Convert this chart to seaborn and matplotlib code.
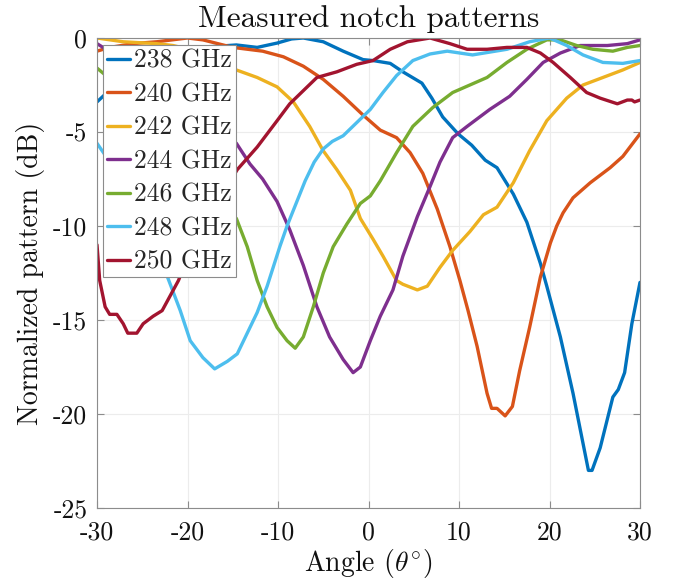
import numpy as np
import pandas as pd
import matplotlib
matplotlib.use("Agg")
import matplotlib.pyplot as plt
import seaborn as sns

# ---------------- data ----------------
freq_labels = ["238 GHz", "240 GHz", "242 GHz", "244 GHz", "246 GHz", "248 GHz", "250 GHz"]
colors = ["#0072BD", "#D95319", "#EDB120", "#7E2F8E", "#77AC30", "#4DBEEE", "#A2142F"]

x238 = [-30, -28, -26, -24, -22, -20, -17, -14.6, -12.3, -10.1, -8.5, -7.2, -5, -2.8, -0.6, 0.5, 2.4, 3.8,
        5.9, 7, 8.2, 9.9, 11.4, 12.9, 14.2, 16, 17.5, 19, 19.7, 21.2, 22.6, 24.3, 24.7, 25.6, 27.0, 27.6,
        28.3, 29.1, 30]
y238 = [-3.4, -2.5, -1.6, -1.0, -0.7, -0.5, -0.45, -0.37, -0.5, -0.27, -0.05, 0, -0.2, -0.7, -1.15, -1.2,
        -1.35, -1.8, -2.4, -3.2, -4.2, -5.1, -5.7, -6.5, -6.9, -8.3, -9.8, -12.0, -13.2, -15.9, -18.9, -23.0,
        -23.0, -21.8, -19.1, -18.7, -17.8, -15.2, -13.0]

x240 = [-30, -28.6, -26, -23.4, -20, -18.3, -15, -11.7, -9.4, -7.2, -5, -2.8, -0.6, 1.3, 3.1, 4.6, 6.0,
        7.6, 9.0, 10.1, 11.0, 12.0, 13.1, 13.6, 14.2, 15.1, 15.9, 16.7, 17.8, 19, 20.1, 20.8, 21.5, 22.6,
        24.5, 26.7, 28.1, 30]
y240 = [-0.7, -0.5, -0.3, -0.2, 0, -0.1, -0.5, -0.7, -1.0, -1.5, -2.2, -3.1, -4.1, -4.9, -5.3, -6.1, -7.2,
        -9.1, -11.1, -12.9, -14.5, -16.4, -18.9, -19.7, -19.7, -20.1, -19.6, -17.7, -15.4, -12.7, -10.9,
        -10.0, -9.3, -8.5, -7.7, -6.9, -6.3, -5.1]

x242 = [-30, -27.1, -23.4, -21.6, -18, -16, -14.6, -12.3, -10.1, -8.3, -6.5, -5, -3.5, -2, -0.9, 0.5, 1.6,
        3.1, 3.8, 5.4, 6.5, 7.9, 9.3, 11.2, 12.7, 14.2, 16, 17.8, 19.7, 21.9, 23.7, 25.9, 28.1, 30]
y242 = [0, -0.2, -0.3, -0.4, -0.8, -1.2, -1.7, -2.1, -2.6, -3.4, -4.7, -6.0, -7.0, -8.1, -9.6, -10.7, -11.6,
        -12.9, -13.1, -13.4, -13.2, -12.2, -11.3, -10.3, -9.4, -9.0, -7.7, -6.0, -4.4, -3.2, -2.5, -2.1,
        -1.7, -1.3]

x244 = [-30, -28, -26, -24, -22, -20, -18, -16, -14.6, -13.1, -11.7, -10.1, -8.7, -7.2, -5.7, -4.3, -2.8,
        -1.7, -0.9, 0.2, 1.3, 2.7, 3.8, 5.4, 6.8, 7.9, 9.3, 10.9, 13.4, 15.6, 17.5, 19.3, 21.2, 23.4,
        26.4, 28.6, 30]
y244 = [-0.3, -0.9, -1.5, -2.1, -2.8, -3.5, -4.3, -5.0, -5.6, -6.7, -7.5, -8.7, -10.2, -12.1, -14.3,
        -15.9, -17.1, -17.8, -17.5, -16.1, -14.8, -13.4, -11.6, -9.5, -7.9, -6.6, -5.3, -4.7, -3.8, -3.1,
        -2.2, -1.3, -0.8, -0.4, -0.4, -0.3, -0.1]

x246 = [-30, -28, -26, -24, -22, -20, -18, -16, -14.6, -13.4, -12.3, -11.2, -10.1, -9, -8.1, -7.2, -6.1,
        -5, -3.9, -2.4, -0.9, 0.2, 1.3, 3.1, 4.9, 7.1, 9.3, 11.2, 13.1, 15.3, 17.5, 19.7, 21.2, 23, 24.8,
        27, 28.6, 30]
y246 = [-1.6, -2.4, -3.4, -4.6, -5.9, -7.2, -8.2, -9.0, -9.6, -11.1, -12.9, -14.3, -15.4, -16.1, -16.5,
        -15.9, -14.3, -12.5, -11.1, -9.9, -8.8, -8.4, -7.6, -6.1, -4.7, -3.7, -2.9, -2.5, -2.1, -1.3, -0.6,
        -0.1, -0.1, -0.4, -0.6, -0.7, -0.5, -0.4]

x248 = [-30, -29, -28, -27, -26, -25, -24, -23, -22.3, -20.8, -19.7, -18.3, -17, -15.6, -14.5, -13.4,
        -12.3, -11.2, -9.8, -9, -8, -7, -6, -5, -4, -2.8, -1.3, 0.2, 1.6, 3.1, 4.9, 6.8, 8.7, 11.5, 15.3,
        17.8, 20, 21.9, 23.7, 25.9, 28.1, 30]
y248 = [-5.6, -6.3, -7.1, -8.0, -9.0, -10.0, -11.0, -11.9, -12.6, -14.5, -16.1, -17.0, -17.6, -17.2,
        -16.8, -15.7, -14.6, -13.2, -11.1, -10.0, -8.8, -7.6, -6.6, -5.9, -5.5, -5.2, -4.5, -3.8, -2.9,
        -2.0, -1.2, -0.85, -0.7, -0.9, -0.6, -0.2, 0, -0.4, -0.9, -1.3, -1.35, -1.2]

x250 = [-30, -29.7, -29.1, -28.6, -27.8, -27.1, -26.6, -25.6, -24.9, -23.8, -22.8, -21.9, -21, -20.5, -19,
        -18, -17, -16, -15, -14.5, -12.3, -10.1, -8.7, -7.2, -5.7, -3.5, -1.3, 0.5, 2.4, 4.3, 6.8, 9, 10.9,
        13.1, 15.3, 17.5, 19, 20.4, 22.3, 24.1, 25.6, 27.5, 28.6, 29.1, 29.4, 30]
y250 = [-11.0, -12.9, -14.3, -14.7, -14.7, -15.2, -15.7, -15.7, -15.2, -14.8, -14.5, -13.7, -12.9, -12.3,
        -11.2, -10.3, -9.3, -8.3, -7.4, -7.0, -5.8, -4.4, -3.5, -2.8, -2.1, -1.8, -1.4, -1.2, -0.6, -0.2, 0,
        -0.3, -0.6, -0.6, -0.5, -0.5, -0.8, -1.3, -2.1, -2.9, -3.2, -3.5, -3.3, -3.3, -3.4, -3.3]

xticks = [-30, -20, -10, 0, 10, 20, 30]
xtick_labels = ["-30", "-20", "-10", "0", "10", "20", "30"]
yticks = [-25, -20, -15, -10, -5, 0]
ytick_labels = ["-25", "-20", "-15", "-10", "-5", "0"]

# ---------------- build long table ----------------
series_x = [x238, x240, x242, x244, x246, x248, x250]
series_y = [y238, y240, y242, y244, y246, y248, y250]
frames = []
for lab, xs, ys in zip(freq_labels, series_x, series_y):
    frames.append(pd.DataFrame({"angle": xs, "dB": ys, "freq": lab}))
df = pd.concat(frames, ignore_index=True)

# ---------------- style ----------------
sns.set_theme(style="white")
plt.rcParams["font.family"] = ["cmr10", "DejaVu Serif"]
plt.rcParams["mathtext.fontset"] = "cm"
plt.rcParams["axes.unicode_minus"] = False

fig = plt.figure(figsize=(6.73, 5.84), dpi=100)
ax = fig.add_axes([97 / 673, 1 - 508 / 584, 543 / 673, 470 / 584])

sns.lineplot(data=df, x="angle", y="dB", hue="freq", hue_order=freq_labels,
             palette=colors, estimator=None, sort=False, linewidth=2.4, ax=ax)

ax.set_xlim(-30, 30)
ax.set_ylim(-25, 0)
ax.set_xticks(xticks)
ax.set_xticklabels(xtick_labels)
ax.set_yticks(yticks)
ax.set_yticklabels(ytick_labels)

ax.grid(True, color="#ececec", linewidth=0.8)
ax.set_axisbelow(True)
for sp in ax.spines.values():
    sp.set_color("#8c8c8c")
    sp.set_linewidth(0.8)
    sp.set_visible(True)
ax.tick_params(axis="both", which="both", direction="in", length=5, width=0.8,
               color="#8c8c8c", labelsize=18.5, labelcolor="#111111",
               top=True, right=True, bottom=True, left=True)
ax.tick_params(axis="x", pad=9)
ax.tick_params(axis="y", pad=7)

ax.set_xlabel(r"Angle ($\theta^{\circ}$)", fontsize=20, color="#111111", labelpad=2)
ax.set_ylabel("Normalized pattern (dB)", fontsize=20, color="#111111", labelpad=6)
ax.set_title("Measured notch patterns", fontsize=22.5, color="#111111", pad=8)

handles, labels = ax.get_legend_handles_labels()
leg = ax.legend(handles, labels, loc="upper left", bbox_to_anchor=(0.011, 0.985),
                borderaxespad=0, fontsize=18.5, frameon=True, fancybox=False,
                handlelength=0.9, handletextpad=0.15, labelspacing=0.38,
                borderpad=0.15, framealpha=1)
leg.get_frame().set_edgecolor("#8c8c8c")
leg.get_frame().set_linewidth(0.8)
for line in leg.get_lines():
    line.set_linewidth(2.4)

fig.savefig("out.png", dpi=100)
